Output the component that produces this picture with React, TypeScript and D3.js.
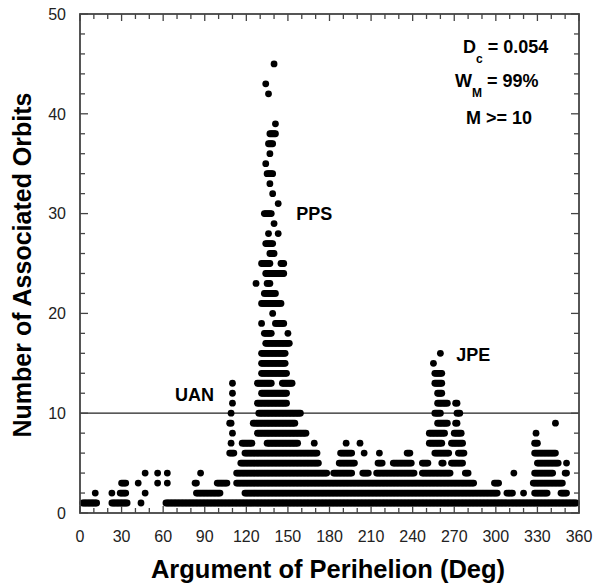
import React from "react";
import * as d3 from "d3";

// [orbit count, first angle, last angle] – dots every degree between first and last
const dotRuns: [number, number, number][] = [
  [1, 2, 12], [1, 23, 34], [1, 44, 44], [1, 62, 358],
  [2, 11, 11], [2, 23, 23], [2, 29, 33], [2, 47, 47], [2, 84, 101], [2, 119, 301], [2, 308, 312], [2, 320, 320], [2, 328, 337], [2, 347, 351],
  [3, 30, 33], [3, 42, 42], [3, 56, 56], [3, 63, 63], [3, 83, 84], [3, 99, 106], [3, 113, 284], [3, 299, 302], [3, 327, 348],
  [4, 47, 47], [4, 56, 56], [4, 63, 63], [4, 87, 87], [4, 113, 178], [4, 183, 196], [4, 204, 208], [4, 214, 241], [4, 247, 267], [4, 278, 280], [4, 313, 313], [4, 328, 341], [4, 350, 351],
  [5, 116, 172], [5, 187, 198], [5, 215, 218], [5, 226, 239], [5, 247, 251], [5, 261, 262], [5, 268, 276], [5, 330, 345], [5, 351, 351],
  [6, 108, 111], [6, 119, 171], [6, 188, 196], [6, 205, 205], [6, 216, 216], [6, 236, 238], [6, 256, 266], [6, 273, 277], [6, 328, 343],
  [7, 109, 109], [7, 117, 124], [7, 135, 157], [7, 169, 169], [7, 192, 192], [7, 202, 202], [7, 252, 261], [7, 268, 276], [7, 328, 330],
  [8, 110, 110], [8, 128, 163], [8, 252, 263], [8, 270, 275], [8, 329, 329],
  [9, 108, 109], [9, 125, 155], [9, 258, 265], [9, 271, 272], [9, 343, 343],
  [10, 109, 109], [10, 129, 159], [10, 256, 260], [10, 272, 274],
  [11, 110, 110], [11, 128, 149], [11, 258, 265], [11, 271, 272],
  [12, 110, 110], [12, 131, 149], [12, 258, 261],
  [13, 110, 110], [13, 128, 138], [13, 146, 153], [13, 256, 261],
  [14, 131, 149], [14, 256, 261],
  [15, 131, 148], [15, 255, 255],
  [16, 131, 148], [16, 260, 260],
  [17, 134, 151],
  [18, 133, 138], [18, 150, 150],
  [19, 131, 131], [19, 141, 147],
  [20, 139, 139],
  [21, 131, 145],
  [22, 133, 141],
  [23, 127, 127], [23, 135, 137],
  [24, 134, 147],
  [25, 131, 137], [25, 145, 147],
  [26, 137, 140],
  [27, 134, 139],
  [28, 136, 136], [28, 143, 143],
  [29, 140, 140],
  [30, 133, 138],
  [31, 143, 143],
  [32, 139, 139],
  [33, 137, 137],
  [34, 135, 139],
  [35, 134, 134],
  [36, 137, 137],
  [37, 136, 139],
  [38, 137, 141],
  [39, 141, 141],
  [42, 136, 136],
  [43, 134, 134],
  [45, 140, 140],
];

const xMajorTicks = [0, 30, 60, 90, 120, 150, 180, 210, 240, 270, 300, 330, 360];
const xMinorTicks = d3.range(0, 361, 10);
const yMajorTicks = [0, 10, 20, 30, 40, 50];
const yMinorTicks = d3.range(0, 51, 2);
const thresholdLine = 10;
const clusterLabels: { name: string; angle: number; count: number }[] = [
  { name: "UAN", angle: 68.5, count: 11.2 },
  { name: "PPS", angle: 156, count: 29.4 },
  { name: "JPE", angle: 271.5, count: 15.2 },
];

const W = 594, H = 585;
const L = 80, R = 579, T = 14, B = 513;

export default function App() {
  const x = d3.scaleLinear().domain([0, 360]).range([L, R]);
  const y = d3.scaleLinear().domain([0, 50]).range([B, T]);
  const dots: { cx: number; cy: number; k: string }[] = [];
  dotRuns.forEach(([lvl, a, b]) => {
    for (let d = a; d <= b; d++) dots.push({ cx: x(d), cy: y(lvl), k: `${lvl}-${d}` });
  });
  const font = "Liberation Sans, Arial, sans-serif";
  const axisColor = "#444";
  return (
    <svg width={W} height={H} style={{ position: "absolute", left: 0, top: 0, background: "#fff" }} fontFamily={font}>
      <rect x={0} y={0} width={W} height={H} fill="#fff" />
      <line x1={L} x2={R} y1={y(thresholdLine)} y2={y(thresholdLine)} stroke="#222" strokeWidth={1.2} />
      <g fill="#000">
        {dots.map((d) => (
          <circle key={d.k} cx={d.cx} cy={d.cy} r={3.4} />
        ))}
      </g>
      {/* ticks */}
      <g stroke={axisColor} strokeWidth={1.3}>
        {xMinorTicks.map((t) => {
          const len = xMajorTicks.includes(t) ? 7 : 5;
          return (
            <g key={"x" + t}>
              <line x1={x(t)} x2={x(t)} y1={B} y2={B - len} />
              <line x1={x(t)} x2={x(t)} y1={T} y2={T + len} />
            </g>
          );
        })}
        {yMinorTicks.map((t) => {
          const len = yMajorTicks.includes(t) ? 8 : 5;
          return (
            <g key={"y" + t}>
              <line x1={L} x2={L + len} y1={y(t)} y2={y(t)} />
              <line x1={R} x2={R - len} y1={y(t)} y2={y(t)} />
            </g>
          );
        })}
      </g>
      <rect x={L} y={T} width={R - L} height={B - T} fill="none" stroke={axisColor} strokeWidth={1.8} />
      {/* tick labels */}
      <g fontSize={16} fill="#222">
        {xMajorTicks.map((t) => (
          <text key={"xl" + t} x={x(t)} y={B + 29} textAnchor="middle">{t}</text>
        ))}
        {yMajorTicks.map((t) => (
          <text key={"yl" + t} x={66} y={y(t) + 5.7} textAnchor="end">{t}</text>
        ))}
      </g>
      {/* cluster labels */}
      <g fontSize={18} fontWeight="bold" fill="#000">
        {clusterLabels.map((c) => (
          <text key={c.name} x={x(c.angle)} y={y(c.count)}>{c.name}</text>
        ))}
      </g>
      {/* parameters */}
      <g fontSize={18} fontWeight="bold" fill="#000">
        <text x={463} y={52.7}>
          D<tspan fontSize={12} dy={10.6}>c</tspan><tspan dy={-10.6}> = 0.054</tspan>
        </text>
        <text x={455} y={86.7}>
          W<tspan fontSize={12} dy={10.6}>M</tspan><tspan dy={-10.6}> = 99%</tspan>
        </text>
        <text x={466} y={124}>M &gt;= 10</text>
      </g>
      {/* axis titles */}
      <text x={328} y={578} textAnchor="middle" fontSize={25.5} fontWeight="bold" fill="#000">
        Argument of Perihelion (Deg)
      </text>
      <text transform={`translate(31, 265) rotate(-90)`} textAnchor="middle" fontSize={25} fontWeight="bold" fill="#000">
        Number of Associated Orbits
      </text>
    </svg>
  );
}
